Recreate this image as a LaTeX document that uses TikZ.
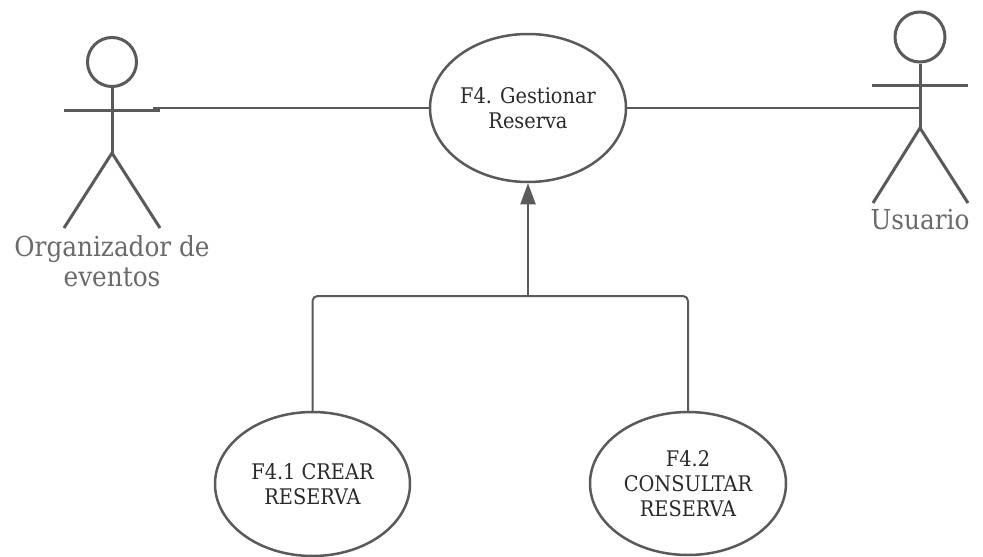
\documentclass[tikz,border=0pt]{standalone}
\usepackage{fontspec}
\setmainfont{DejaVu Serif Condensed}
\usetikzlibrary{arrows.meta,shapes.geometric}
\definecolor{lineg}{HTML}{5A5A5A}
\definecolor{actortext}{HTML}{6A6A6A}
\definecolor{uctext}{HTML}{2A2A2A}
\tikzset{
  usecase/.style={draw=lineg, line width=2.5pt, ellipse, inner sep=0pt, align=center,
    font=\fontsize{21.5}{25}\selectfont, text=uctext},
  actorline/.style={draw=lineg, line width=3pt},
  connline/.style={draw=lineg, line width=2pt},
  actorlabel/.style={font=\fontsize{27.5}{30}\selectfont, text=actortext, align=center, inner sep=0pt},
}
\begin{document}
\begin{tikzpicture}[x=1pt,y=-1pt]
\useasboundingbox[fill=white] (0,0) rectangle (983,557);

% use cases
\node[usecase, minimum width=196pt, minimum height=148pt] (main) at (528,108) {F4. Gestionar\\Reserva};
\node[usecase, minimum width=195pt, minimum height=144pt] (crear) at (312.5,484) {F4.1 CREAR\\RESERVA};
\node[usecase, minimum width=196pt, minimum height=143pt] (consultar) at (688,483.5) {F4.2\\CONSULTAR\\RESERVA};

% left actor
\node[actorline, circle, minimum size=49pt, inner sep=0pt] (orghead) at (112,62) {};
\coordinate (orghip) at (112,153);
\coordinate (orgarmL) at (64,110);
\coordinate (orgarmR) at (160,110);
\coordinate (orglegL) at (64,228);
\coordinate (orglegR) at (160,228);
\draw[actorline] (orghead.south) -- (orghip);
\draw[actorline] (orgarmL) -- (orgarmR);
\draw[actorline, line join=round] (orglegL) -- (orghip) -- (orglegR);
\node[actorlabel] (orglabel) at (112,261) {Organizador de\\eventos};

% right actor
\node[actorline, circle, minimum size=50pt, inner sep=0pt] (usrhead) at (920,37) {};
\coordinate (usrhip) at (920,128);
\coordinate (usrbody) at (920,108);
\coordinate (usrarmL) at (872,85);
\coordinate (usrarmR) at (968,85);
\coordinate (usrlegL) at (873,203);
\coordinate (usrlegR) at (968,203);
\draw[actorline] (usrhead.south) -- (usrhip);
\draw[actorline] (usrarmL) -- (usrarmR);
\draw[actorline, line join=round] (usrlegL) -- (usrhip) -- (usrlegR);
\node[actorlabel] (usrlabel) at (920,220) {Usuario};

% associations
\coordinate (orgconn) at (153,108);
\draw[connline] (orgconn) -- (main.west);
\draw[connline] (main.east) -- (usrbody);

% generalization
\coordinate (junc) at (528,296);
\draw[connline, rounded corners=5pt] (crear.north) |- (junc) -| (consultar.north);
\draw[connline, -{Triangle[width=15pt,length=21pt]}] (junc) -- (main.south);
\end{tikzpicture}
\end{document}
